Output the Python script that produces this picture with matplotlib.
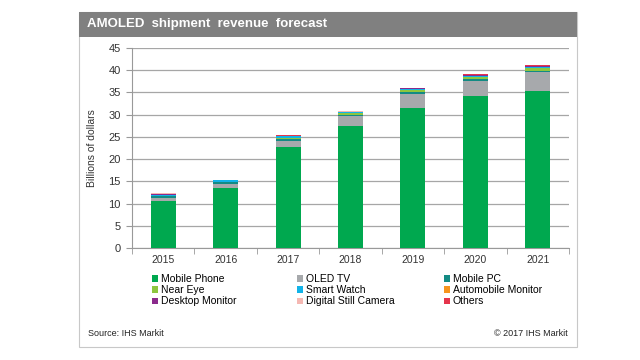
import matplotlib
matplotlib.use("Agg")
import matplotlib.pyplot as plt
from matplotlib.patches import Rectangle
import numpy as np

plt.rcParams['font.family'] = ['Liberation Sans', 'DejaVu Sans']

years = ["2015", "2016", "2017", "2018", "2019", "2020", "2021"]
series_names = ["Mobile Phone", "OLED TV", "Mobile PC", "Near Eye", "Smart Watch",
                "Automobile Monitor", "Desktop Monitor", "Digital Still Camera", "Others"]
mobile_phone = [10.6, 13.5, 22.8, 27.5, 31.6, 34.3, 35.4]
oled_tv      = [0.6, 1.0, 1.3, 2.1, 3.1, 3.3, 4.1]
mobile_pc    = [0.4, 0.3, 0.4, 0.3, 0.3, 0.4, 0.4]
near_eye     = [0.1, 0.1, 0.3, 0.4, 0.5, 0.5, 0.6]
smart_watch  = [0.3, 0.3, 0.3, 0.3, 0.2, 0.2, 0.2]
auto_monitor = [0.02, 0.02, 0.03, 0.05, 0.1, 0.1, 0.1]
desktop_mon  = [0.2, 0.05, 0.1, 0.05, 0.1, 0.1, 0.1]
dsc          = [0.05, 0.05, 0.05, 0.1, 0.1, 0.1, 0.1]
others       = [0.03, 0.03, 0.05, 0.05, 0.1, 0.2, 0.2]
colors = ["#00A84F", "#A7A9AC", "#138B84", "#8DC63F", "#12B3E8",
          "#F7941D", "#8B2A8C", "#F5B8B3", "#E5344C"]
yticks = [0, 5, 10, 15, 20, 25, 30, 35, 40, 45]

data = [mobile_phone, oled_tv, mobile_pc, near_eye, smart_watch,
        auto_monitor, desktop_mon, dsc, others]

W, H = 640, 360
fig = plt.figure(figsize=(6.4, 3.6), dpi=100)

# outer frame and title bar
fig.add_artist(Rectangle((79/W, 1-347/H), (577-79)/W, (347-12)/H, transform=fig.transFigure,
                         facecolor="white", edgecolor="#C8C8C8", lw=0.8, zorder=0))
fig.add_artist(Rectangle((79/W, 1-37/H), (577-79)/W, 25/H, transform=fig.transFigure,
                         facecolor="#808080", edgecolor="none", zorder=1))
fig.text(87/W, 1-24.5/H, "AMOLED  shipment  revenue  forecast", color="white",
         fontsize=9.5, fontweight="bold", va="center", ha="left")

ax = fig.add_axes([132/W, 1-248/H, (569-132)/W, 200/H])
x = np.arange(len(years))
bottom = np.zeros(len(years))
handles = []
for name, vals, c in zip(series_names, data, colors):
    b = ax.bar(x, vals, 0.4, bottom=bottom, color=c, label=name, zorder=3)
    handles.append(b)
    bottom += np.array(vals)

ax.set_xlim(-0.5, len(years) - 0.5)
ax.set_ylim(0, 45)
ax.set_yticks(yticks)
ax.set_yticklabels([str(v) for v in yticks], fontsize=8, color="#333333")
ax.yaxis.grid(True, color="#A6A6A6", lw=0.9, zorder=0)
ax.set_xticks(x)
ax.set_xticklabels(years, fontsize=7.5, color="#333333")
ax.tick_params(axis="x", length=0, pad=5)
ax.set_xticks(np.arange(-0.5, len(years)), minor=True)
ax.tick_params(axis="x", which="minor", length=4, color="#999999", direction="out")
ax.tick_params(axis="y", length=4, color="#999999", pad=4)
for s in ["top", "right"]:
    ax.spines[s].set_visible(False)
ax.spines["left"].set_color("#999999")
ax.spines["bottom"].set_color("#999999")
ax.set_ylabel("Billions of dollars", fontsize=7.5, color="#333333", labelpad=8)

# legend in three columns, row-major order
col_x = [152, 297, 444]
for ci in range(3):
    idx = [ci, ci + 3, ci + 6]
    leg = fig.legend([handles[i] for i in idx], [series_names[i] for i in idx],
                     loc="upper left", bbox_to_anchor=(col_x[ci]/W, 1-274/H),
                     frameon=False, fontsize=7.5, handlelength=0.6, handleheight=0.6,
                     handletextpad=0.25, labelspacing=0.12, borderpad=0, borderaxespad=0)

fig.text(88/W, 1-333/H, "Source: IHS Markit", fontsize=6.5, color="#222222", va="center")
fig.text(568/W, 1-333/H, "© 2017 IHS Markit", fontsize=6.5, color="#222222", va="center", ha="right")

fig.savefig("out.png", dpi=100)
